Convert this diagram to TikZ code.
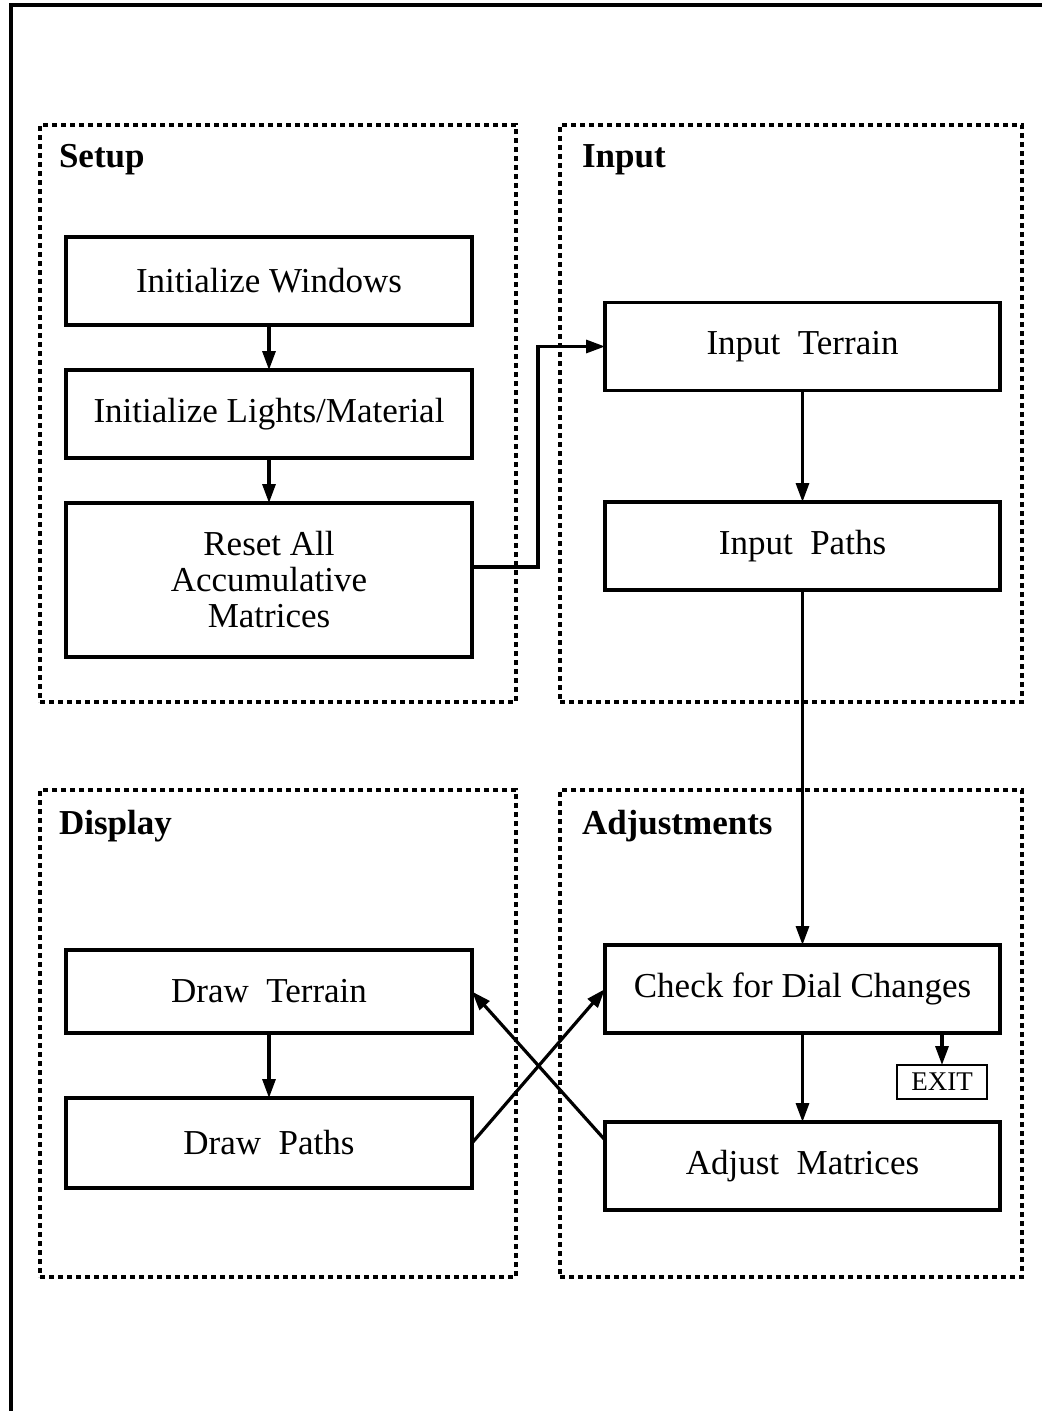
\documentclass[tikz,border=0pt]{standalone}
\usepackage{fontspec}
\setmainfont{Liberation Serif}
\usetikzlibrary{arrows.meta}
\begin{document}
\begin{tikzpicture}[x=1pt,y=-1pt,
  every node/.style={inner sep=0pt, outer sep=0pt},
  frame/.style={line width=3.5pt},
  group/.style={draw, line width=3.6pt, dash pattern=on 5pt off 4pt},
  grouptitle/.style={anchor=west, font=\fontsize{35}{36}\selectfont\bfseries},
  proc/.style={draw, line width=3.4pt, align=center, minimum width=406pt, minimum height=88pt,
               font=\fontsize{35}{36}\selectfont},
  procr/.style={proc, minimum width=395pt},
  arr/.style={line width=3.2pt, -{Triangle[length=19pt,width=13pt]}}
]
\useasboundingbox (0,0) rectangle (1042,1411);

% page frame
\draw[frame] (11,1411) -- (11,5) -- (1042,5);

% grouping panels
\node[group, minimum width=476pt, minimum height=577pt] (gsetup) at (278,413.5) {};
\node[group, minimum width=462pt, minimum height=577pt] (ginput) at (791,413.5) {};
\node[group, minimum width=476pt, minimum height=487pt] (gdisp) at (278,1033.5) {};
\node[group, minimum width=462pt, minimum height=487pt] (gadj) at (791,1033.5) {};

\node[grouptitle] (tsetup) at (59,160) {Setup};
\node[grouptitle] (tinput) at (582,160) {Input};
\node[grouptitle] (tdisp) at (59,826) {Display};
\node[grouptitle] (tadj) at (582,826) {Adjustments};

% Setup
\node[proc] (iw) at (269,281) {Initialize Windows};
\node[proc] (il) at (269,414) {Initialize Lights/Material};
\node[proc, minimum height=154pt] (rs) at (269,580) {Reset All\\Accumulative\\Matrices};

% Input
\node[procr] (it) at (802.5,346.5) {Input\enspace Terrain};
\node[procr] (ip) at (802.5,546) {Input\enspace Paths};

% Display
\node[proc, minimum height=83pt] (dt) at (269,991.5) {Draw\enspace Terrain};
\node[proc, minimum height=90pt] (dp) at (269,1143) {Draw\enspace Paths};

% Adjustments
\node[procr] (cd) at (802.5,989) {Check for Dial Changes};
\node[procr] (am) at (802.5,1166) {Adjust\enspace Matrices};
\node[draw, line width=2.8pt, minimum width=90pt, minimum height=34pt,
      font=\fontsize{27}{28}\selectfont] (ex) at (942,1082) {EXIT};

% flow
\draw[arr] (iw.south) -- (il.north);
\draw[arr] (il.south) -- (rs.north);
\draw[arr] ([yshift=13pt]rs.east) -- ++(66,0) |- (it.west);
\draw[arr] (it.south) -- (ip.north);
\draw[arr] (ip.south) -- (cd.north);
\draw[arr] (cd.south) -- (am.north);
\draw[arr] (ex.north |- cd.south) -- (ex.north);
\draw[arr] (dt.south) -- (dp.north);
\draw[arr] (dp.east) -- (cd.west);
\draw[arr] ([yshift=26pt]am.west) -- (dt.east);
\end{tikzpicture}
\end{document}
